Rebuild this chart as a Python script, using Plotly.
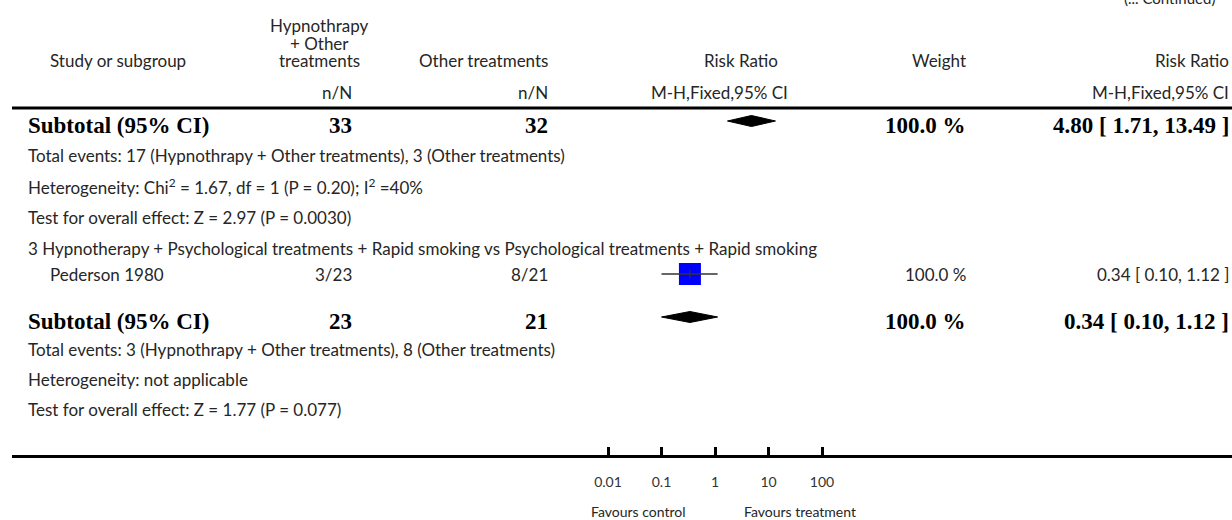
import math
import plotly.graph_objects as go

# ---------------- data ----------------
subgroup_title = ("3 Hypnotherapy + Psychological treatments + Rapid smoking vs "
                  "Psychological treatments + Rapid smoking")

study_names = ["Pederson 1980"]
study_treat_events = [3]
study_treat_totals = [23]
study_ctrl_events = [8]
study_ctrl_totals = [21]
study_rr = [0.34]
study_ci_low = [0.10]
study_ci_high = [1.12]
study_weight = [100.0]

subtotal_treat_totals = [33, 23]
subtotal_ctrl_totals = [32, 21]
subtotal_rr = [4.80, 0.34]
subtotal_ci_low = [1.71, 0.10]
subtotal_ci_high = [13.49, 1.12]
subtotal_weight = [100.0, 100.0]

total_events_notes = [
    "Total events: 17 (Hypnothrapy + Other treatments), 3 (Other treatments)",
    "Total events: 3 (Hypnothrapy + Other treatments), 8 (Other treatments)",
]
heterogeneity_notes = [
    "Heterogeneity: Chi<sup>2</sup> = 1.67, df = 1 (P = 0.20); I<sup>2</sup> =40%",
    "Heterogeneity: not applicable",
]
overall_effect_notes = [
    "Test for overall effect: Z = 2.97 (P = 0.0030)",
    "Test for overall effect: Z = 1.77 (P = 0.077)",
]

tick_values = [0.01, 0.1, 1, 10, 100]
tick_labels = ["0.01", "0.1", "1", "10", "100"]
null_value = 1

# ---------------- layout geometry (pixels) ----------------
W, H = 1232, 520
LEFT = 12                 # left end of the horizontal rules
PLOT_H = 455              # plot area runs from the top down to the axis line
NULL_PX = 715             # where RR = 1 sits
DECADE_PX = 53.5          # width of one log10 decade

log_lo = (LEFT - NULL_PX) / DECADE_PX
log_hi = (W - NULL_PX) / DECADE_PX

SANS = "Lato"
SERIF = "Liberation Serif"
TXT = "#262626"
BODY = 17
SMALL = 14
BOLD = 23

row_sub1, row_tot1, row_het1, row_eff1 = 125, 155, 186, 217
row_group, row_study = 248, 274
row_sub2, row_tot2, row_het2, row_eff2 = 321, 349, 379, 409
subtotal_rows = [row_sub1, row_sub2]
note_rows = [(row_tot1, row_het1, row_eff1), (row_tot2, row_het2, row_eff2)]

COL_NAME = 26
COL_STUDY = 48
COL_TREAT = 354
COL_CTRL = 550
COL_WEIGHT = 968
COL_RR = 1231


def xp(px):
    return (px - LEFT) / (W - LEFT)


def yp(py):
    return (PLOT_H - py) / PLOT_H


annotations = []


def label(px, py, text, anchor="left", size=BODY, bold=False, color=TXT, yref="y"):
    family = SERIF if bold else SANS
    if bold:
        text = "<b>" + text + "</b>"
        color = "#000000"
    annotations.append(dict(
        x=xp(px), xref="paper", y=py if yref == "y" else yp(py), yref=yref,
        text=text, showarrow=False, xanchor=anchor, yanchor="middle",
        font=dict(family=family, size=size, color=color),
    ))


# header
label(1122, -2, "(... Continued)", anchor="left", size=15, yref="paper")
label(319, 25, "Hypnothrapy", anchor="center")
label(319, 43, "+ Other", anchor="center")
label(319, 60, "treatments", anchor="center")
label(COL_STUDY, 60, "Study or subgroup")
label(COL_CTRL, 60, "Other treatments", anchor="right")
label(780, 60, "Risk Ratio", anchor="right")
label(COL_WEIGHT, 60, "Weight", anchor="right")
label(COL_RR, 60, "Risk Ratio", anchor="right")
label(COL_TREAT, 92, "n/N", anchor="right")
label(COL_CTRL, 92, "n/N", anchor="right")
label(790, 92, "M-H,Fixed,95% CI", anchor="right")
label(COL_RR, 92, "M-H,Fixed,95% CI", anchor="right")

# subtotal rows and their notes
for i, ry in enumerate(subtotal_rows):
    label(COL_NAME, ry, "Subtotal (95% CI)", bold=True, size=BOLD)
    label(COL_TREAT, ry, str(subtotal_treat_totals[i]), anchor="right", bold=True, size=BOLD)
    label(COL_CTRL, ry, str(subtotal_ctrl_totals[i]), anchor="right", bold=True, size=BOLD)
    label(COL_WEIGHT, ry, f"{subtotal_weight[i]:.1f} %", anchor="right", bold=True, size=BOLD)
    label(COL_RR, ry,
          f"{subtotal_rr[i]:.2f} [ {subtotal_ci_low[i]:.2f}, {subtotal_ci_high[i]:.2f} ]",
          anchor="right", bold=True, size=BOLD)
    r_tot, r_het, r_eff = note_rows[i]
    label(COL_NAME, r_tot, total_events_notes[i])
    label(COL_NAME, r_het, heterogeneity_notes[i])
    label(COL_NAME, r_eff, overall_effect_notes[i])

# subgroup heading and study row
label(COL_NAME, row_group, subgroup_title)
for i, name in enumerate(study_names):
    label(COL_STUDY, row_study, name)
    label(COL_TREAT, row_study, f"{study_treat_events[i]}/{study_treat_totals[i]}", anchor="right")
    label(COL_CTRL, row_study, f"{study_ctrl_events[i]}/{study_ctrl_totals[i]}", anchor="right")
    label(COL_WEIGHT, row_study, f"{study_weight[i]:.1f} %", anchor="right")
    label(COL_RR, row_study,
          f"{study_rr[i]:.2f} [ {study_ci_low[i]:.2f}, {study_ci_high[i]:.2f} ]",
          anchor="right")

# axis captions
label(688, 511, "Favours control", anchor="right", size=SMALL, yref="paper")
label(742, 511, "Favours treatment", anchor="left", size=SMALL, yref="paper")

fig = go.Figure()

# study square, then its CI line on top
fig.add_trace(go.Scatter(
    x=study_rr, y=[row_study] * len(study_rr), mode="markers",
    marker=dict(symbol="square", size=22, color="#0000ff", line=dict(width=0)),
    hoverinfo="skip", showlegend=False,
))
for i in range(len(study_rr)):
    fig.add_trace(go.Scatter(
        x=[study_ci_low[i], study_ci_high[i]], y=[row_study, row_study], mode="lines",
        line=dict(color="#333333", width=1.6), hoverinfo="skip", showlegend=False,
    ))
    fig.add_trace(go.Scatter(
        x=[study_rr[i]], y=[row_study], mode="markers",
        marker=dict(symbol="line-ns", size=6, line=dict(color="#333333", width=1.2)),
        hoverinfo="skip", showlegend=False,
    ))

# pooled diamonds
DIAMOND_HALF = 5.5
for i, ry in enumerate(subtotal_rows):
    cy = ry - 4
    fig.add_trace(go.Scatter(
        x=[subtotal_ci_low[i], subtotal_rr[i], subtotal_ci_high[i], subtotal_rr[i], subtotal_ci_low[i]],
        y=[cy, cy - DIAMOND_HALF, cy, cy + DIAMOND_HALF, cy],
        mode="lines", fill="toself", fillcolor="#000000",
        line=dict(color="#000000", width=1), hoverinfo="skip", showlegend=False,
    ))

# line of no effect
null_log = math.log10(null_value)
shapes = [
    dict(type="line", xref="x", yref="paper", x0=null_log, x1=null_log,
         y0=yp(110), y1=yp(PLOT_H), line=dict(color="#a0a0a0", width=1.5), layer="below"),
    dict(type="line", xref="x", yref="paper", x0=null_log, x1=null_log,
         y0=yp(PLOT_H), y1=yp(H), line=dict(color="#d4d4d4", width=1.5), layer="below"),
    # header rule
    dict(type="line", xref="paper", yref="paper", x0=0, x1=1,
         y0=yp(108), y1=yp(108), line=dict(color="#000000", width=3)),
]

fig.update_layout(
    width=W, height=H,
    margin=dict(l=LEFT, r=0, t=0, b=H - PLOT_H),
    paper_bgcolor="white", plot_bgcolor="white",
    showlegend=False,
    annotations=annotations,
    shapes=shapes,
    xaxis=dict(
        type="log", range=[log_lo, log_hi], fixedrange=True,
        showgrid=False, zeroline=False,
        showline=True, linecolor="#000000", linewidth=3,
        ticks="inside", ticklen=8, tickwidth=3, tickcolor="#000000",
        tickvals=tick_values, ticktext=tick_labels,
        tickfont=dict(family=SANS, size=SMALL, color="#333333"),
        ticklabelstandoff=12,
    ),
    yaxis=dict(range=[PLOT_H, 0], visible=False, fixedrange=True),
)

fig.write_html("out.html")
